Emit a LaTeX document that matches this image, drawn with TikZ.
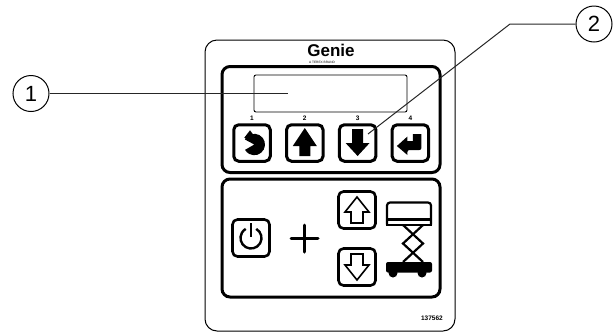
\documentclass[tikz,border=0pt]{standalone}
\usepackage{fontspec}
\setmainfont{Liberation Sans}
\usetikzlibrary{positioning}
\tikzset{panel/.style={draw,line width=3pt,rounded corners=8pt,inner sep=0pt,minimum width=218pt},
         keybtn/.style={draw,line width=3pt,rounded corners=5pt,inner sep=0pt,minimum size=36.5pt},
         thinbtn/.style={draw,line width=2.6pt,rounded corners=5pt,inner sep=0pt,minimum size=37pt},
         callout/.style={draw,circle,line width=1pt,inner sep=0pt,minimum size=36pt,font=\fontsize{22}{22}\selectfont},
         keynum/.style={inner sep=0pt,font=\bfseries\fontsize{6.5}{6.5}\selectfont},
         leader/.style={line width=1pt,draw=black!85}}
\begin{document}
\begin{tikzpicture}[x=1pt,y=-1pt,node distance=52.8pt,on grid]
            \useasboundingbox (0,0) rectangle (615,333);
            \node[draw,line width=1pt,rounded corners=12pt,minimum width=250pt,minimum height=291pt,inner sep=0pt] (plate) at (330,185.5) {};
            \node[inner sep=0pt,font=\bfseries\fontsize{17}{17}\selectfont] (logo) at (331,50.5) {Genie};
            \node[inner sep=0pt,font=\fontsize{3.2}{3.2}\selectfont] (brand) at (322,62.5) {A TEREX BRAND};
            \node[panel,minimum height=106pt] (upper) at (331,119.5) {};
            \node[panel,minimum height=118pt] (lower) at (331,238) {};
            \node[draw,line width=.9pt,rounded corners=2pt,minimum width=153pt,minimum height=37pt,inner sep=0pt] (display) at (330.5,93.5) {};
            % the four keys
            \node[keybtn]          (keya) at (252,143)    {};
            \node[keybtn]          (keyb) [right =of keya]    {};
            \node[keybtn]          (keyc) [right =of keyb]    {};
            \node[keybtn]          (keyd) [right =of keyc]    {};
            \node[keynum]          (numa) [above =25pt of keya] {1};
            \node[keynum]          (numb) [above =25pt of keyb] {2};
            \node[keynum]          (numc) [above =25pt of keyc] {3};
            \node[keynum]          (numd) [above =25pt of keyd] {4};
            \fill[shift={(keya)}] (-2,-12.7) -- (-7.7,-5.3) -- (-1,-1) -- (3,-6) -- cycle;
            \fill[shift={(keya)}] (2.3,1.5) -- ++(208:10.7) arc (208:510:10.7) -- cycle;
            \fill[shift={(keyb)}] (0,-15) -- (12,3) -- (5.5,3) -- (5.5,13) -- (-5.5,13) -- (-5.5,3) -- (-12,3) -- cycle;
            \fill[shift={(keyc)}] (0,13) -- (12,0) -- (5.5,0) -- (5.5,-14) -- (-5.5,-14) -- (-5.5,0) -- (-12,0) -- cycle;
            \fill[shift={(keyd)}] (-13.5,3) -- (-3,-6.5) -- (-3,-2) -- (2.5,-2) -- (2.5,-9) -- (11,-9) -- (11,4) [rounded corners=2pt] -- (11,7) -- (-3,7) [sharp corners] -- (-3,12) -- cycle;
            % lower panel
            \node[thinbtn]         (power) at (251,238)   {};
            \draw[shift={(power)},line width=2.4pt] (300:10.5) arc (300:600:10.5);
            \draw[shift={(power)},line width=2.4pt] (0,-15) -- (0,-1);
            \draw[line width=3pt,line cap=round] (291,238.5) -- (318,238.5);
            \draw[line width=3pt,line cap=round] (304.5,225) -- (304.5,252);
            \node[thinbtn]         (liftup) at (357,210)  {};
            \node[thinbtn]         (liftdn) at (357,267)  {};
            \draw[shift={(liftup)},line width=1.6pt,line join=miter] (0,-13) -- (12,2) -- (6,2) -- (6,13) -- (-6,13) -- (-6,2) -- (-12,2) -- cycle;
            \draw[shift={(liftdn)},line width=1.6pt,line join=miter] (0,13) -- (12,-2) -- (6,-2) -- (6,-13) -- (-6,-13) -- (-6,-2) -- (-12,-2) -- cycle;
            % the lift
            \draw[line width=2.2pt,rounded corners=3pt] (387,224.5) -- (387,202.5) -- (431,202.5) -- (431,224.5);
            \fill (386,218) rectangle (432,220.5);
            \fill (386,223.5) rectangle (432,225.5);
            \draw[line width=2.2pt] (403,225) -- (423,243.5) -- (403,262);
            \draw[line width=2.2pt] (423,225) -- (403,243.5) -- (423,262);
            \fill[rounded corners=2pt] (386,262) -- (432,262) -- (432,272.5) -- (386,272.5) -- cycle;
            \fill (393,273) circle (4.5);
            \fill (422,273) circle (4.5);
            \node[inner sep=0pt,anchor=east,font=\bfseries\fontsize{6.5}{6.5}\selectfont] (partno) at (443,318) {137562};
            % callouts
            \node[callout]         (callb) at (594,24)    {2};
            \node[callout]         (calla) at (31,93.5)   {1};
            \coordinate (enda) at (288,93.5);
            \coordinate (bend) at (510,24);
            \coordinate (endb) at (368,134);
            \draw[leader] (calla) -- (enda);
            \draw[leader] (callb) -- (bend) -- (endb);
\end{tikzpicture}
\end{document}
